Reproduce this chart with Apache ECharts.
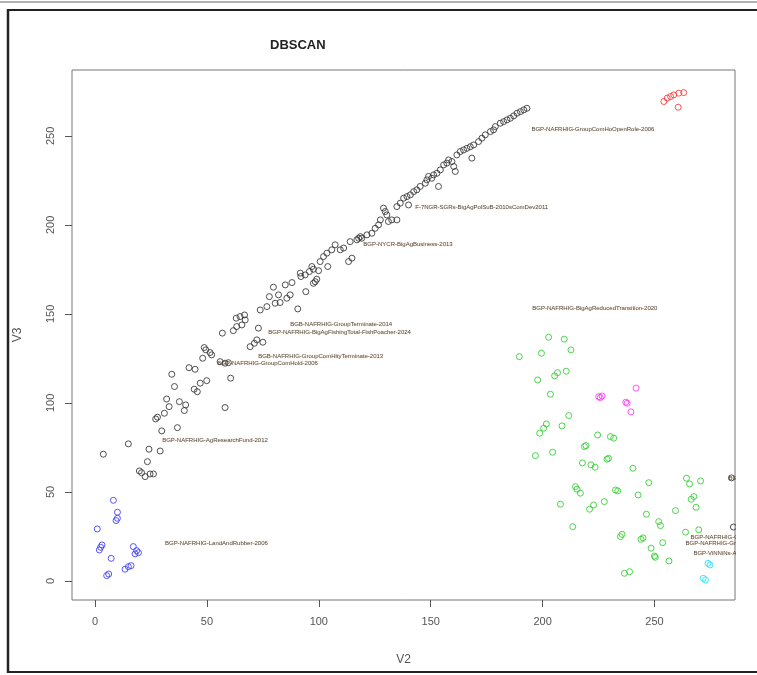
<!DOCTYPE html>
<html>
<head>
<meta charset="utf-8">
<script src="https://cdn.jsdelivr.net/npm/echarts@6/dist/echarts.min.js"></script>
<style>
  html, body { margin: 0; padding: 0; background: #fff; }
  #chart { width: 757px; height: 675px; }
</style>
</head>
<body>
<div id="chart"></div>
<script>
// cluster points, [V2, V3]
const blackPts = [
  [3.7,71.2],[14.9,77],[24.1,74],[29.1,73],[23.4,67],[19.8,61.8],[20.8,60.8],[22.4,58.6],[24.6,60.1],[26.1,60.1],
  [29.8,84.3],[36.8,86.1],[27.1,91],[27.9,92],[31,94.2],[32,102.2],[33.1,97.9],[37.7,100.7],[40.5,98.9],[39.9,95.7],
  [35.5,109.2],[34.3,116.1],[44.3,107.7],[45.7,106.3],[47,111.1],[49.9,112.5],[42,119.8],[44.7,118.9],[48.1,125.1],
  [48.8,131.1],[49.5,129.8],[51.4,128.3],[52.1,127],[55.9,123.2],[58.1,122.3],[59.6,122.6],[60.6,113.9],[58.1,97.4],
  [56.9,139.2],[61.8,140.6],[63.3,142.9],[65.6,143.8],[66.8,149.4],[63.1,147.6],[64.8,148.5],[67.1,146.6],[73,142],
  [69.3,131.6],[71.2,133.5],[72.3,135.4],[75,134.1],[73.8,152.2],[76.8,154.1],[80.5,156],[82.7,156.4],[90.6,152.8],
  [79.7,165],[77.9,159.7],[82,160.7],[85.7,158.8],[87.2,160.7],[85,166.3],[88,167.6],
  [92,171],[93.9,171.9],[95.8,173.8],[97.6,175.1],[99.9,174.3],[94.2,162.5],[98.4,168.1],[99.1,169.5],[104,176.6],
  [102.1,182.2],[103.6,184.1],[105.8,186],[107.3,188.8],[109.6,186],[111.1,187],[113.3,179.4],[114.8,181.3],
  [114,190.6],[117.8,192.5],[118.6,193.4],[91.7,172.9],[96.9,176.6],[100.6,179.4],[97.6,167.2],
  [117,191.6],[119.2,192.5],[121.5,194.4],[123.7,195.3],[125.2,198.1],[126.7,200],[127.5,202.8],
  [128.9,209.4],[129.7,207.5],[130.4,205.6],[131.1,201.9],[132.6,202.8],[134.9,202.8],
  [134.9,210.3],[136.4,212.2],[137.9,215],[139.4,215.9],[140.9,216.9],[142.4,218.7],[140.1,211.2],
  [143.8,219.7],[145.3,221.6],[147.6,223.4],[148.3,225.3],[149,227.2],[150.5,226.2],[151.3,228.1],[152.8,229],
  [153.5,221.6],[154.3,230.9],[155.8,233.7],[157.2,234.7],[158,236.5],[159.5,235.6],[160.3,232.8],[161,230],
  [161.7,239.3],[163.2,241.2],[164.7,242.1],[166.2,243],[167.7,243.9],[168.4,237.5],
  [169.2,244.9],[171.4,246.8],[172.9,248.7],[174.4,250.6],[176.7,252.4],[178.1,253.4],
  [178.9,255.2],[181.1,257.1],[182.6,258],[184.1,259],[185.6,259.9],[187.1,261.2],[188.6,262.7],
  [190.1,263.6],[191.6,264.6],[193,265.5],[284.4,57.9],[285.3,30.3]
];
const bluePts = [
  [8.2,45.3],[10,38.6],[9.4,33.9],[10,35.2],[1,29.2],[3.1,20.2],[2.5,18.9],[1.9,17.4],[7.2,12.7],[5.2,3],[6.1,3.9],
  [13.4,6.6],[14.9,8],[16.1,8.6],[17.1,19.3],[18.6,17],[19.4,15.9],[17.9,15.2]
];
const redPts = [
  [254.2,269.3],[255.7,271.2],[257.2,272.1],[258.6,273],[260.9,274],[263.1,274.3],[260.6,266.1]
];
const greenPts = [
  [189.6,126],[202.7,136.9],[209.7,135.8],[212.7,129.8],[199.5,127.9],[197.8,112.9],[205.4,115.2],[206.7,117],
  [210.6,117.8],[203.5,104.9],[211.7,92.9],[201.7,88.2],[200.5,85.8],[198.7,83],[208.7,87.1],[196.8,70.4],
  [204.5,72.3],[218.7,75.5],[219.4,76],[224.6,82],[230.3,81.1],[231.8,80.2],[217.8,66.3],[221.6,65.2],
  [223.5,63.9],[228.8,68.4],[229.5,68.9],[240.4,63.3],[214.7,53],[215.4,51.5],[216.9,49.3],[208,43.1],
  [222.8,42.7],[221,40.3],[227.6,44.6],[232.6,51.1],[233.6,50.6],[242.7,48.3],[247.5,55.2],[213.5,30.5],
  [246.4,37.5],[251.9,33.3],[252.7,31.1],[259.4,39.5],[264.3,57.7],[265.7,54.5],[270.6,56.2],[267.6,47.4],
  [266.4,45.9],[268.6,41.4],[263.9,27.4],[269.8,28.7],[234.8,24.9],[235.5,26.2],[244,23.4],[244.9,24.2],
  [248.5,18.4],[253.7,21.5],[250,14],[250.4,13.3],[256.5,11.2],[236.6,4.3],[238.9,5.2]
];
const magentaPts = [
  [225.8,103],[226.6,103.9],[225.1,103.5],[241.8,108.3],[237.8,99.8],[237.2,100.4],[239.5,95]
];
const cyanPts = [
  [273.9,9.9],[274.8,9],[271.8,1.5],[272.8,0.6]
];

// point labels: text and anchor (text starts at the anchor)
const labelText = [
  'BGP-NAFRHIG-GroupComHoOpenRole-2006',
  'F-7NGR-SGRs-BigAgPolSuB-2010sComDev2011',
  'BGP-NYCR-BigAgBusiness-2013',
  'BGP-NAFRHIG-BigAgReducedTransition-2020',
  'BGB-NAFRHIG-GroupTerminate-2014',
  'BGP-NAFRHIG-BigAgFishingTotal-FishPoacher-2024',
  'BGB-NAFRHIG-GroupComHityTerminate-2013',
  'BGP-NAFRHIG-GroupComHold-2006',
  'BGP-NAFRHIG-AgResearchFund-2012',
  'BGP-NAFRHIG-LandAndRubber-2006',
  'BGP-NAFRHIG-GroupLand-2011',
  'BGP-NAFRHIG-GroupSeed-2009',
  'BGP-ViNNiNs-Ag-2008',
  'BGP-NAFRHIG-2010'
];
const labelPos = [
  [195.0,253.4],[143.1,209.6],[119.9,189.3],[195.4,153.4],[87.2,144.4],[77.4,139.9],[72.9,126.4],
  [54.6,122.5],[30.0,78.7],[31.3,21.3],[266.1,24.7],[263.9,21.3],[267.4,15.7],[283.1,57.9]
];

const tickValues = [0, 50, 100, 150, 200, 250];

const chart = echarts.init(document.getElementById('chart'));

function cluster(name, pts, color) {
  return {
    name: name,
    type: 'scatter',
    data: pts,
    symbol: 'circle',
    symbolSize: 6,
    itemStyle: { color: 'rgba(0,0,0,0)', borderColor: color, borderWidth: 1, opacity: 0.85 },
    emphasis: { disabled: true },
    z: 3
  };
}

const option = {
  backgroundColor: '#fff',
  animation: false,
  title: {
    text: 'DBSCAN',
    left: 265,
    top: 34,
    textStyle: { fontFamily: 'Liberation Sans', fontWeight: 'bold', fontSize: 13, color: '#222' }
  },
  grid: {
    left: 72, right: 22, top: 70, bottom: 75,
    show: true, borderColor: '#777', borderWidth: 1, backgroundColor: '#fff'
  },
  xAxis: {
    type: 'value',
    min: -10.3, max: 286,
    name: 'V2', nameLocation: 'middle', nameGap: 54,
    nameTextStyle: { fontFamily: 'Liberation Sans', fontSize: 12, color: '#555' },
    axisLine: { show: false, onZero: false },
    splitLine: { show: false },
    axisTick: { show: true, inside: false, length: 7, customValues: tickValues, lineStyle: { color: '#555' } },
    axisLabel: { customValues: tickValues, margin: 16, fontFamily: 'Liberation Sans', fontSize: 11, color: '#555' }
  },
  yAxis: {
    type: 'value',
    min: -10.7, max: 287,
    name: 'V3', nameLocation: 'middle', nameGap: 48, nameRotate: 90,
    nameTextStyle: { fontFamily: 'Liberation Sans', fontSize: 12, color: '#555' },
    axisLine: { show: false, onZero: false },
    splitLine: { show: false },
    axisTick: { show: true, inside: false, length: 7, customValues: tickValues, lineStyle: { color: '#555' } },
    axisLabel: { customValues: tickValues, rotate: 90, margin: 16, fontFamily: 'Liberation Sans', fontSize: 11, color: '#555' }
  },
  series: [
    cluster('noise', blackPts, '#333'),
    cluster('c1', bluePts, '#3a3aff'),
    cluster('c2', redPts, '#ff3333'),
    cluster('c3', greenPts, '#2ecc2e'),
    cluster('c4', magentaPts, '#ff33ff'),
    cluster('c5', cyanPts, '#22ddff'),
    {
      name: 'labels',
      type: 'scatter',
      symbolSize: 0,
      data: labelPos.map(function (p, i) { return { value: p, name: labelText[i] }; }),
      label: {
        show: true,
        position: 'right',
        distance: 0,
        formatter: '{b}',
        fontFamily: 'Liberation Sans Narrow, Liberation Sans',
        fontSize: 6,
        color: '#222',
        textBorderColor: 'rgba(230,170,90,0.2)',
        textBorderWidth: 1
      },
      emphasis: { disabled: true },
      z: 4
    }
  ],
  graphic: [
    // hide label overflow beyond the plot box
    { type: 'rect', shape: { x: 736, y: 60, width: 30, height: 560 }, style: { fill: '#fff' }, z: 100 },
    // screenshot frame
    { type: 'line', shape: { x1: 0, y1: 2, x2: 757, y2: 2 }, style: { stroke: '#999', lineWidth: 1.5 }, z: 101 },
    { type: 'line', shape: { x1: 8, y1: 10, x2: 757, y2: 10 }, style: { stroke: '#222', lineWidth: 2 }, z: 101 },
    { type: 'line', shape: { x1: 8, y1: 9, x2: 8, y2: 673 }, style: { stroke: '#222', lineWidth: 2.5 }, z: 101 },
    { type: 'line', shape: { x1: 8, y1: 672, x2: 757, y2: 672 }, style: { stroke: '#222', lineWidth: 2 }, z: 101 }
  ]
};

chart.setOption(option);
</script>
</body>
</html>
